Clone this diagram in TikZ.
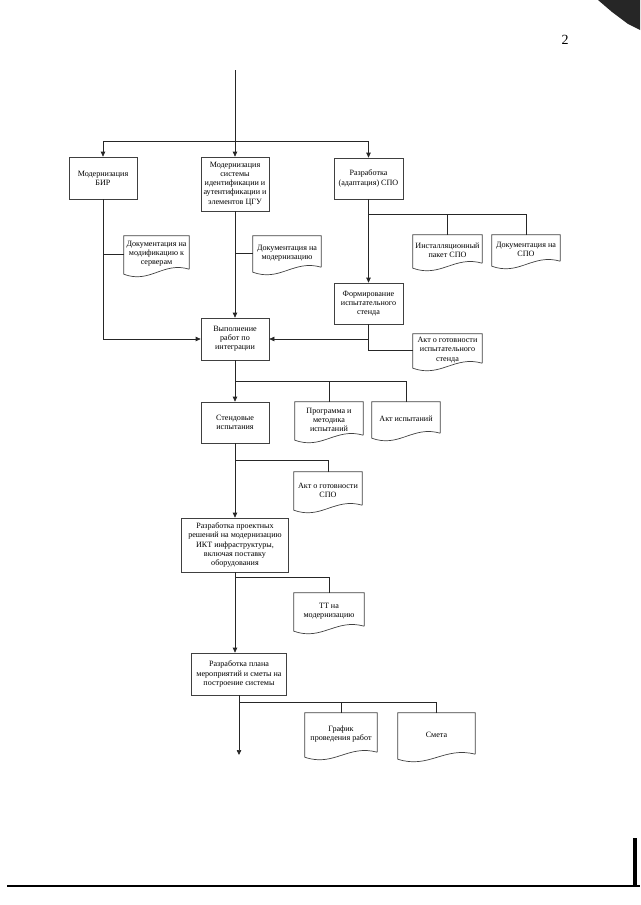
\documentclass[tikz,border=0pt]{standalone}
\usepackage{fontspec}
\setmainfont{Liberation Serif}
\usetikzlibrary{arrows.meta,calc}
\tikzset{
  ln/.style={draw=black!85, line width=0.7pt},
  arr/.style={ln, -{Triangle[length=5pt,width=4.5pt]}},
  txt/.style={align=center, inner sep=1pt, font=\fontsize{8.1}{9.2}\selectfont},
  box/.style={txt, draw=black!75, line width=0.7pt},
  doc/.style={txt},
}
\newcommand\docout[1]{%
  \draw[draw=black!75, line width=0.7pt]
    ([yshift=3pt]#1.south east) -- (#1.north east) -- (#1.north west) -- ([yshift=-2pt]#1.south west)
    .. controls ($(#1.south west)!0.4!(#1.south east)+(0pt,-12pt)$) and ($(#1.south west)!0.6!(#1.south east)+(0pt,11pt)$) .. ([yshift=3pt]#1.south east);}
\begin{document}
\begin{tikzpicture}[x=1pt,y=-1pt]
\useasboundingbox (0,0) rectangle (640,905);

% boxes
\node[box, minimum width=68, minimum height=42] (A) at (103,178) {Модернизация\\БИР};
\node[box, minimum width=68, minimum height=54] (B) at (235,184) {Модернизация\\системы\\идентификации и\\аутентификации и\\элементов ЦГУ};
\node[box, minimum width=69, minimum height=41] (C) at (368.5,178.5) {Разработка\\(адаптация) СПО};
\node[box, minimum width=69, minimum height=41] (F) at (368.5,303.5) {Формирование\\испытательного\\стенда};
\node[box, minimum width=68, minimum height=42] (V) at (235,339) {Выполнение\\работ по\\интеграции};
\node[box, minimum width=68, minimum height=41] (S) at (235,422.5) {Стендовые\\испытания};
\node[box, minimum width=107, minimum height=54] (R) at (235,545) {Разработка проектных\\решений на модернизацию\\ИКТ инфраструктуры,\\включая поставку\\оборудования};
\node[box, minimum width=95, minimum height=42] (P) at (239,674) {Разработка плана\\мероприятий и сметы на\\построение системы};

% documents
\node[doc, minimum width=65, minimum height=36] (D1) at (156.5,254) {Документация на\\модификацию к\\серверам};
\node[doc, minimum width=68, minimum height=34] (D2) at (287,253) {Документация на\\модернизацию};
\node[doc, minimum width=69, minimum height=31] (D3) at (447.5,250.5) {Инсталляционный\\пакет СПО};
\node[doc, minimum width=68, minimum height=29] (D4) at (526,249.5) {Документация на\\СПО};
\node[doc, minimum width=69, minimum height=32] (D5) at (447.5,350) {Акт о готовности\\испытательного\\стенда};
\node[doc, minimum width=68, minimum height=36] (D6) at (329,420) {Программа и\\методика\\испытаний};
\node[doc, minimum width=68, minimum height=34] (D7) at (406,419) {Акт испытаний};
\node[doc, minimum width=68, minimum height=36] (D8) at (328,490) {Акт о готовности\\СПО};
\node[doc, minimum width=70, minimum height=36] (D9) at (329,611) {ТТ на\\модернизацию};
\node[doc, minimum width=72, minimum height=42] (D10) at (341,734) {График\\проведения работ};
\node[doc, minimum width=77, minimum height=44] (D11) at (436.5,735) {Смета};
\foreach \d in {D1,D2,D3,D4,D5,D6,D7,D8,D9,D10,D11} {\docout{\d}}

% connectors
\coordinate (top) at (235,70);
\coordinate (j1) at (235,141);
\draw[ln] (top) -- (j1);
\draw[arr] (j1) -| (A);
\draw[arr] (j1) -- (B);
\draw[arr] (j1) -| (C);

\draw[arr] (A) |- (V);
\draw[ln] (D1.west) -- (D1.west -| A.south);
\draw[arr] (B) -- (V);
\draw[ln] (D2.west) -- (D2.west -| B.south);

\draw[arr] (C) -- (F);
\coordinate (c1) at (368.5,214);
\draw[ln] (c1) -| (D4.north);
\draw[ln] (D3.north |- c1) -- (D3.north);
\draw[ln] (F) |- (D5.west);
\coordinate (f1) at (F.south |- V.east);
\draw[arr] (f1) -- (V.east);

\draw[arr] (V) -- (S);
\coordinate (v1) at (235,381);
\draw[ln] (v1) -| (D7.north);
\draw[ln] (D6.north |- v1) -- (D6.north);

\draw[arr] (S) -- (R);
\coordinate (s1) at (235,460);
\draw[ln] (s1) -| (D8.north);

\draw[arr] (R) -- (R.south |- P.north);
\coordinate (r1) at (235,577);
\draw[ln] (r1) -| (D9.north);

\coordinate (bot) at (239,755);
\draw[arr] (P) -- (bot);
\coordinate (p1) at (239,702);
\draw[ln] (p1) -| (D11.north);
\draw[ln] (D10.north |- p1) -- (D10.north);

% page number, page edge and scan marks
\node[inner sep=0, font=\fontsize{14}{14}\selectfont] (pg) at (565,40) {2};
\coordinate (e1) at (7,886);
\coordinate (e2) at (640,886);
\draw[black, line width=1.5pt] (e1) -- (e2);
\fill[black!85] (598,0) -- (640,0) -- (640,30) -- (628,24) -- (612,12) -- cycle;
\fill[black] (633,838) rectangle (637,886);
\end{tikzpicture}
\end{document}
